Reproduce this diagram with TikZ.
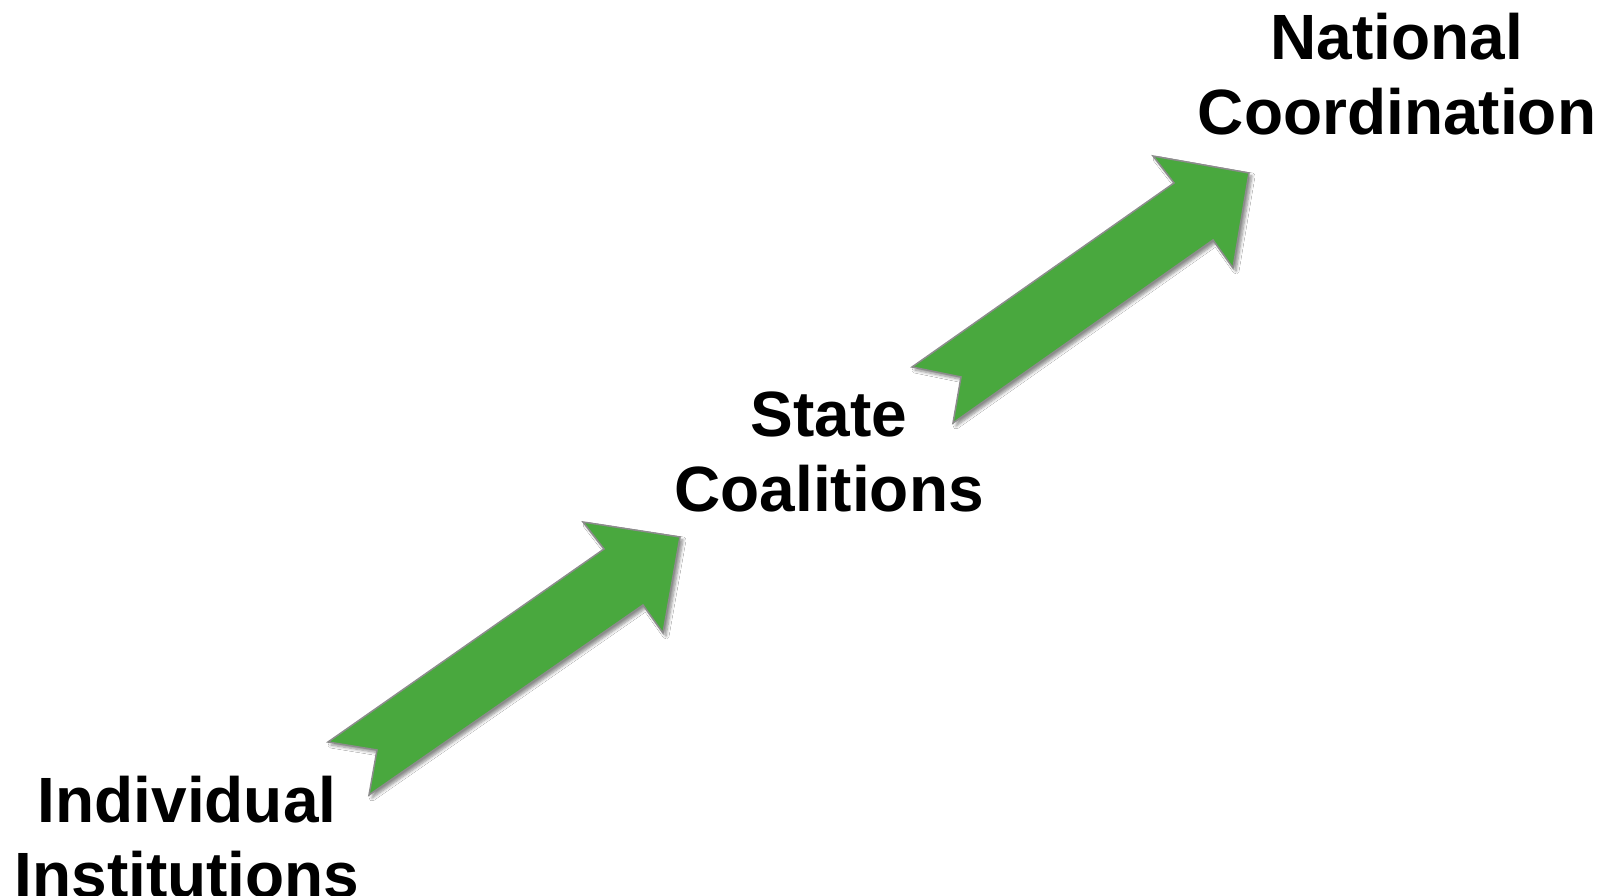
\documentclass[tikz,border=0pt]{standalone}
\usepackage{fontspec}
\setmainfont{Liberation Sans}
\usetikzlibrary{shadows.blur}
\definecolor{arrowgreen}{RGB}{73,168,62}
\definecolor{arrowedge}{RGB}{140,140,140}
\begin{document}
\begin{tikzpicture}[x=1pt,y=-1pt,
  blockarrow/.style={fill=arrowgreen, draw=arrowedge, line width=1.5pt, line join=miter,
    blur shadow={shadow xshift=3pt, shadow yshift=-3pt, shadow blur steps=6, shadow blur radius=3pt, shadow opacity=45}},
  steplabel/.style={font=\bfseries\fontsize{64}{75}\selectfont, align=center, inner sep=0pt, anchor=base}]
\useasboundingbox[fill=white] (0,0) rectangle (1604,896);
\draw[blockarrow] (328,742) -- (377,750) -- (369,795) -- (643,605) -- (663,633) -- (680,537) -- (583,522) -- (604,549) -- cycle;
\draw[blockarrow] (912,367) -- (961,377) -- (953,423) -- (1213,240) -- (1233,268) -- (1249,173) -- (1153,156) -- (1174,183) -- cycle;
\node[steplabel] (ind) at (187,897) {Individual\\Institutions};
\node[steplabel] (state) at (829,511) {State\\Coalitions};
\node[steplabel] (nat) at (1397,135) {National\\Coordination};
\end{tikzpicture}
\end{document}
